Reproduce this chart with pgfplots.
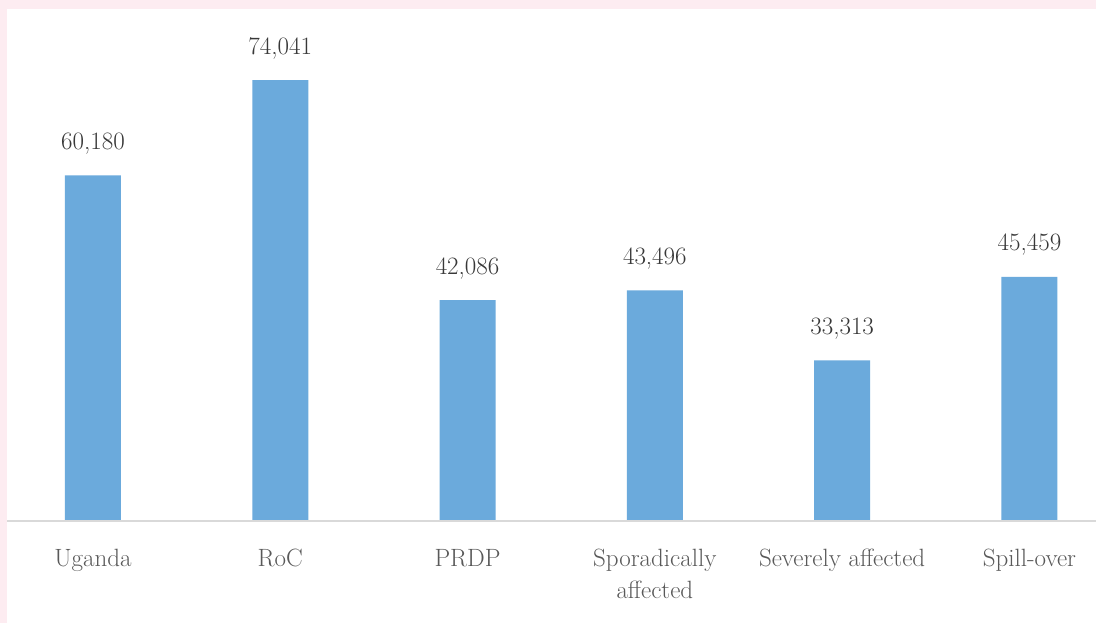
\documentclass[border=0pt]{standalone}
\usepackage{pgfplots}
\pgfplotsset{compat=1.18}
\definecolor{bgpink}{RGB}{253,236,241}
\definecolor{barblue}{RGB}{107,170,220}
\definecolor{axgray}{RGB}{217,217,217}
\definecolor{lblgray}{RGB}{89,89,89}
\definecolor{valgray}{RGB}{56,56,56}
\begin{document}
\begin{tikzpicture}[x=1pt,y=1pt]
\clip (0,0) rectangle (1096,623);
\fill[bgpink] (0,0) rectangle (1096,623);
\fill[white] (7,0) rectangle (1096,614);
\begin{axis}[
  at={(-0.65pt,102pt)}, anchor=south west,
  scale only axis,
  width=1123.8pt, height=482pt,
  xmin=-0.5, xmax=5.5,
  ymin=10000, ymax=80000,
  hide axis,
  clip=false,
  ybar, bar width=56pt,
  nodes near coords,
  /pgf/number format/.cd, fixed, 1000 sep={,}, assume math mode=true,
]
\addplot[fill=barblue, draw=none,
  nodes near coords style={font=\fontsize{25}{30}\selectfont, text=valgray, anchor=base, yshift=26pt}]
  coordinates {(0,60180) (1,74041) (2,42086) (3,43496) (4,33313) (5,45459)};
\draw[axgray, line width=1.5pt] (axis cs:-0.459,10000) -- (axis cs:5.5,10000);
\tikzset{xl/.style={anchor=base, text=lblgray, font=\fontsize{25}{32}\selectfont, yshift=-46pt}}
\node[xl] at (axis cs:0,10000) {Uganda};
\node[xl] at (axis cs:1,10000) {RoC};
\node[xl] at (axis cs:2,10000) {PRDP};
\node[xl] at (axis cs:3,10000) {Sporadically};
\node[xl, yshift=-32pt] at (axis cs:3,10000) {affected};
\node[xl] at (axis cs:4,10000) {Severely affected};
\node[xl] at (axis cs:5,10000) {Spill-over};
\end{axis}
\end{tikzpicture}
\end{document}
